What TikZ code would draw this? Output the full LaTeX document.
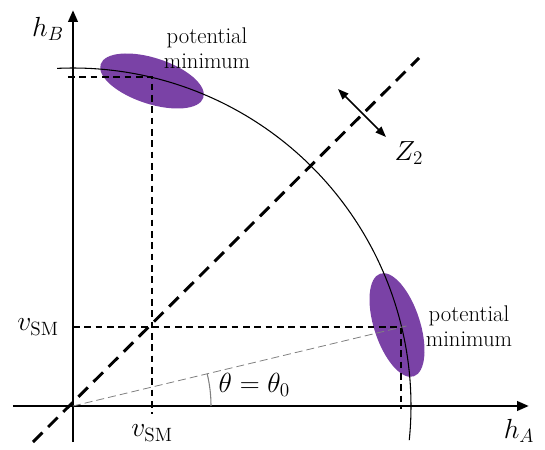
\documentclass[tikz,border=0pt]{standalone}
\usetikzlibrary{arrows.meta}
\definecolor{minpurple}{RGB}{122,66,166}
\tikzset{
  axis/.style={line width=2.2pt,-{Triangle[length=9pt,width=7pt]}},
  guide/.style={line width=1.1pt,dash pattern=on 5pt off 3.5pt},
  well/.style={fill=minpurple,draw=none},
  lbl/.style={font=\fontsize{22}{26}\selectfont}
}
\begin{document}
\begin{tikzpicture}[x=0.75pt,y=0.75pt]
\useasboundingbox (-73,-43) rectangle (472,406);
\coordinate (O) at (0,0);

% potential minima
\fill[well,rotate around={-18:(79,325)}] (79,325) ellipse (54 and 23);
\fill[well,rotate around={108:(324,81)}] (324,81) ellipse (54 and 23);

% circle of minima
\draw[line width=0.8pt] (92.7:338) arc (92.7:-5.8:338);

% axes
\draw[axis] (0,-36) -- (0,396);
\draw[axis] (-60,0) -- (456,0);
\node[lbl] (hB) at (-25,377) {$h_B$};
\node[lbl] (hA) at (446,-25) {$h_A$};

% symmetry line
\draw[line width=2.2pt,dash pattern=on 10pt off 6pt] (-40,-36) -- (346,348);
\coordinate (z1) at (265,317);
\coordinate (z2) at (313,269);
\draw[line width=1.1pt,{Triangle[length=8pt,width=6pt]}-{Triangle[length=8pt,width=6pt]}] (z1) -- (z2);
\node[lbl] (Z) at (336,253) {$Z_2$};

% vev projections
\coordinate (C1) at (79,329);
\coordinate (C2) at (328,79);
\draw[guide] (-5,329) -- (C1) -- (79,-8);
\draw[guide] (0,79) -- (C2) -- (328,-3);
\node[lbl] (vl) at (-35,79) {$v_{\mathrm{SM}}$};
\node[lbl] (vb) at (79,-27) {$v_{\mathrm{SM}}$};

% angle
\draw[gray,line width=0.6pt,dash pattern=on 6pt off 3pt] (O) -- (13.5:343);
\draw[gray,line width=0.8pt] (138,0) arc (0:13.5:138);
\node[font=\fontsize{20}{24}\selectfont,anchor=west] (th) at (141,21) {$\theta=\theta_0$};

% labels
\node[font=\fontsize{17}{19}\selectfont,align=center] (pm1) at (134,358) {potential\\minimum};
\node[font=\fontsize{17}{19}\selectfont,align=center] (pm2) at (396,80) {potential\\minimum};
\end{tikzpicture}
\end{document}
